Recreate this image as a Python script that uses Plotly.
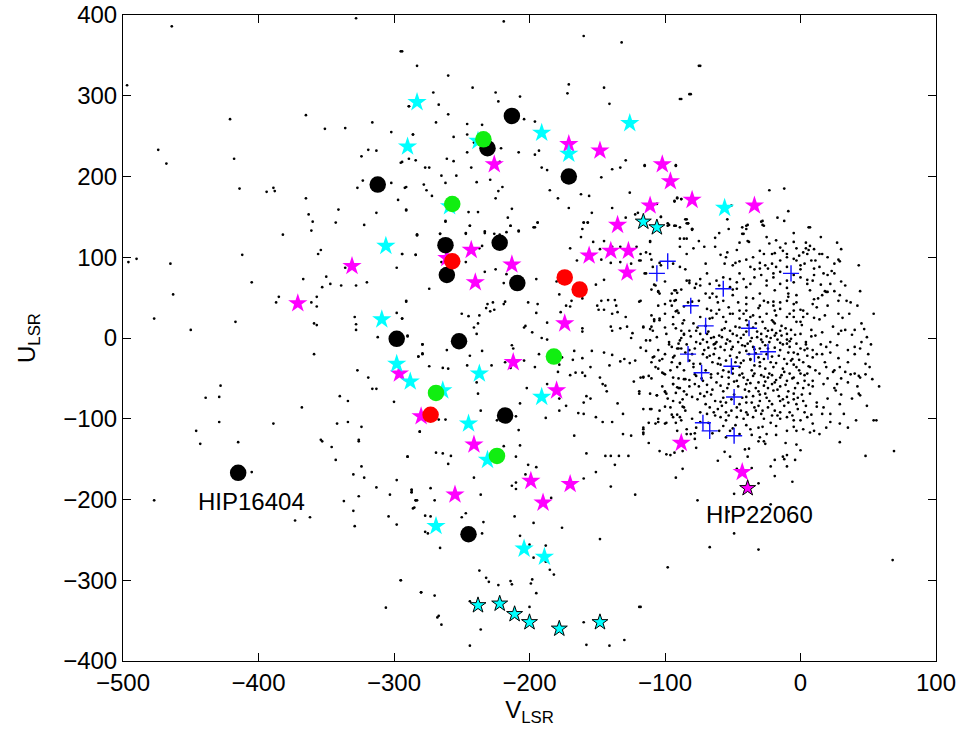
import plotly.graph_objects as go

# ---------------- data (V_LSR, U_LSR) ----------------
black_circ_v = [-415, -312, -213, -231, -171, -262, -222, -261, -209, -298, -252, -218, -245]
black_circ_u = [-167, 190, 275, 235, 200, 115, 118, 78, 68, -1, -4, -96, -243]

red_circ_v = [-257, -174, -163, -273]
red_circ_u = [95, 75, 60, -95]

green_circ_v = [-234, -257, -182, -269, -224]
green_circ_u = [246, 166, -23, -68, -146]

magenta_v = [-171, -226, -148, -102, -96, -80, -111, -135, -34, -243, -213, -240, -156, -140,
             -127, -128, -174, -212, -180, -296, -331, -371, -280, -261, -241, -255, -199, -170,
             -190, -88, -43]
magenta_u = [240, 215, 232, 215, 194, 171, 164, 140, 164, 109, 91, 69, 102, 108,
             108, 81, 18, -30, -65, -44, 89, 43, -97, 99, -132, -194, -177, -181,
             -204, -130, -166]

magenta_edge_v = [-39]
magenta_edge_u = [-186]

cyan_v = [-283, -290, -191, -126, -171, -56, -306, -309, -298, -288, -237, -245, -191, -264,
          -231, -269, -204, -189, -238, -259]
cyan_u = [292, 237, 254, 266, 228, 161, 114, 23, -32, -54, -44, -106, -73, -65,
          -151, -233, -261, -271, 244, 163]

cyan_edge_v = [-116, -106, -238, -222, -211, -200, -178, -148]
cyan_edge_u = [144, 137, -331, -329, -342, -352, -360, -352]

plus_v = [-98, -106, -7, -57, -81, -70, -38, -83, -34, -24, -51, -73, -49, -72, -67, -49]
plus_u = [95, 80, 80, 61, 40, 15, 12, -20, -20, -17, -35, -43, -73, -105, -115, -121]

# background field stars (V, U)
field_outer = [
    (-464, 386), (-328, 396), (-497, 313), (-295, 355), (-283, 337), (-289, 287), (-421, 271),
    (-365, 276), (-351, 259), (-336, 260), (-316, 267), (-302, 255), (-286, 252), (-474, 233),
    (-468, 216), (-418, 222), (-319, 233), (-313, 232), (-324, 225), (-295, 217), (-289, 222),
    (-284, 220), (-323, 195), (-302, 192), (-291, 187), (-327, 186), (-414, 185), (-394, 181),
    (-389, 186), (-388, 182), (-365, 173), (-297, 171), (-341, 159), (-313, 155), (-291, 158),
    (-363, 153), (-360, 144), (-343, 143), (-322, 140), (-361, 133), (-382, 128), (-283, 128),
    (-219, 392), (-160, 374), (-132, 366), (-294, 355), (-75, 337), (-260, 325), (-242, 310),
    (-271, 304), (-225, 304), (-171, 314), (-145, 310), (-172, 303), (-207, 299), (-289, 287),
    (-267, 289), (-223, 293), (-141, 290), (-88, 296), (-81, 302), (-260, 277), (-269, 267),
    (-246, 265), (-235, 264), (-204, 271), (-196, 268), (-286, 252), (-256, 249), (-246, 252),
    (-241, 242), (-221, 235), (-246, 230), (-208, 230), (-196, 227), (-193, 232), (-294, 218),
    (-261, 222), (-256, 219), (-222, 218), (-191, 211), (-187, 208), (-277, 211), (-274, 211),
    (-243, 211), (-129, 220), (-139, 209), (-133, 211), (-115, 213), (-92, 213), (-265, 201),
    (-254, 201), (-229, 196), (-262, 192), (-239, 193), (-147, 199), (-292, 186), (-278, 190),
    (-276, 183), (-220, 187), (-223, 182), (-185, 183), (-272, 176), (-225, 173), (-162, 178),
    (-156, 176), (-179, 173), (-126, 180), (-91, 174), (-88, 172), (-93, 169), (-291, 159),
    (-213, 160), (-171, 161), (-154, 155), (-139, 161), (-245, 156), (-238, 156), (-216, 149),
    (-262, 145), (-194, 143), (-160, 143), (-157, 143), (-129, 149), (-120, 155), (-122, 153),
    (-103, 150), (-98, 142), (-93, 139), (-84, 147), (-244, 139), (-214, 139), (-197, 137),
    (-161, 135), (-217, 131), (-208, 133), (-233, 132), (-226, 129), (-222, 128), (-266, 129),
    (-247, 130), (-80, 135), (-283, 128),
    (-74, 337), (-82, 302), (-89, 296), (-115, 214), (-92, 214), (-23, 183), (-12, 185),
    (-93, 170), (-91, 173), (-88, 172), (-106, 166), (-51, 164), (-9, 157), (-17, 149),
    (-12, 145), (-103, 150), (-85, 147), (-83, 142), (-54, 147), (-28, 145), (-27, 139),
    (-80, 135), (-97, 140), (-43, 137), (-40, 135), (-39, 140), (-43, 129), (6, 137),
    (-496, 94), (-490, 98), (-465, 92), (-412, 103), (-356, 104), (-354, 109), (-336, 87),
    (-294, 104), (-284, 103), (-298, 87), (-405, 69), (-463, 54), (-367, 73), (-350, 76),
    (-347, 67), (-353, 63), (-339, 65), (-328, 65), (-320, 69), (-385, 51), (-387, 44),
    (-361, 44), (-357, 51), (-357, 39), (-291, 45), (-477, 24), (-450, 10), (-417, 20),
    (-359, 18), (-357, 16), (-329, 26), (-328, 17), (-328, 10), (-298, 31), (-294, 24),
    (-312, 1), (-290, 3), (-359, -20), (-279, -8), (-282, -23), (-279, -20), (-327, -40),
    (-319, -49), (-316, -63), (-313, -63), (-428, -59), (-439, -74), (-429, -73), (-340, -72),
    (-334, -78), (-368, -86), (-300, -79), (-429, -104), (-389, -106), (-342, -106),
    (-334, -104), (-324, -110), (-446, -115), (-281, -116), (-354, -126), (-326, -126),
    (-443, -131), (-415, -129), (-353, -128), (-346, -135), (-326, -128), (-290, -147),
    (-343, -151), (-405, -166), (-324, -159), (-330, -169), (-322, -173), (-298, -176),
    (-313, -185), (-287, -188), (-287, -191), (-303, -194), (-326, -196), (-477, -201),
    (-337, -202), (-284, -201), (-285, -210), (-330, -214), (-373, -226), (-362, -222),
    (-304, -221), (-298, -231), (-329, -233), (-295, -300), (-280, -315), (-306, -334),
]

field_mid = [
    (-262, 144), (-244, 139), (-233, 130), (-214, 139), (-208, 132), (-194, 143), (-196, 137),
    (-283, 127), (-266, 129), (-247, 129), (-294, 104), (-284, 103), (-237, 111), (-235, 114),
    (-265, 94), (-247, 94), (-233, 82), (-225, 85), (-217, 79), (-219, 68), (-274, 61),
    (-291, 46), (-231, 42), (-232, 37), (-229, 33), (-226, 35), (-227, 44), (-219, 42),
    (-218, 45), (-201, 44), (-195, 31), (-194, 42), (-195, 73), (-250, 30), (-245, 27),
    (-237, 28), (-294, 24), (-241, 13), (-238, 18), (-239, 5), (-203, 15), (-204, 13),
    (-198, 7), (-187, 19), (-191, 0), (-187, -2), (-213, -9), (-212, -13), (-290, 2),
    (-279, -8), (-279, -19), (-282, -23), (-261, -15), (-244, -22), (-235, -16), (-228, -34),
    (-218, -30), (-204, -28), (-193, -20), (-196, -36), (-274, -35), (-264, -37), (-260, -38),
    (-246, -34), (-239, -55), (-161, 8), (-161, 12), (-170, 111), (-165, 96), (-180, 70),
    (-169, 46), (-170, 39), (-161, 49), (-178, 54), (-173, 40), (-177, 32), (-160, 143),
    (-157, 143), (-162, 125), (-153, 119), (-145, 120), (-139, 113), (-133, 113), (-121, 113),
    (-148, 110), (-147, 97), (-140, 93), (-133, 94), (-125, 92), (-119, 96), (-118, 104),
    (-111, 119), (-111, 104), (-110, 97), (-114, 80), (-103, 90), (-92, 139), (-98, 139),
    (-80, 135), (-89, 123), (-84, 123), (-83, 142), (-151, 66), (-145, 72), (-147, 46),
    (-142, 47), (-137, 47), (-136, 40), (-150, 40), (-145, 35), (-149, 35), (-139, 30),
    (-135, 32), (-119, 45), (-129, 26), (-140, 14), (-139, 9), (-133, 12), (-128, 14),
    (-124, 6), (-125, 0), (-116, 14), (-111, 11), (-110, 14), (-104, 24), (-108, 21),
    (-108, 66), (-105, 58), (-104, 55), (-100, 42), (-96, 46), (-92, 59), (-91, 56),
    (-92, 47), (-84, 71), (-82, 68), (-78, 62), (-92, 33), (-90, 31), (-94, 17), (-87, 18),
    (-88, 9), (-86, 4), (-81, 2), (-76, 13), (-111, -3), (-114, -16), (-118, -12),
    (-102, -26), (-97, -8), (-108, -23), (-93, -22), (-90, -13), (-88, -13), (-84, -8),
    (-89, -31), (-91, -36), (-107, -36), (-112, -47), (-102, -43), (-94, -49), (-79, -32),
    (-85, -51), (-77, -47), (-82, -60), (-86, -66), (-89, -62), (-94, -57), (-100, -66),
    (-106, -71), (-99, -69), (-118, -49), (-116, -48), (-119, -66), (-123, -54), (-119, -69),
    (-126, -31), (-122, -28), (-130, -26), (-133, -29), (-139, -21), (-141, -34), (-148, -49),
    (-146, -57), (-144, -59), (-143, -66), (-145, -18), (-154, -16), (-161, -25), (-161, -43),
    (-159, -47), (-166, -43), (-167, -16), (-155, -36), (-160, -80), (-158, -72), (-155, -75),
    (-164, -93), (-160, -94), (-151, -98), (-146, -104), (-135, -81), (-131, -94), (-139, -104),
    (-116, -88), (-110, -88), (-112, -105), (-105, -104), (-99, -105), (-94, -98), (-89, -80),
    (-87, -76), (-92, -68), (-91, -95), (-88, -102), (-116, -111), (-116, -117), (-125, -121),
    (-131, -119), (-84, -113), (-81, -119), (-78, -125), (-167, -121), (-188, -99), (-173, -84),
    (-178, -75), (-178, -90), (-187, -57), (-202, -62), (-238, -69), (-262, -64), (-267, -101),
    (-262, -101), (-281, -116), (-208, -114), (-210, -97), (-224, -102), (-236, -90),
    (-207, -81), (-214, -37), (-168, -27), (-176, -24), (-178, -33), (-170, -46), (-179, -42),
]

field_cluster = [
    (-93, 139), (-84, 142), (-80, 134), (-63, 124), (-53, 135), (-40, 139), (-42, 129),
    (-39, 120), (-38, 119), (-29, 144), (-28, 140), (-23, 117), (-18, 121), (-11, 117),
    (-5, 119), (-3, 111), (4, 118), (7, 114), (4, 111), (7, 137), (27, 118), (-13, 108),
    (-10, 104), (-21, 104), (-19, 105), (-27, 104), (-47, 109), (-54, 106), (-59, 103),
    (-63, 113), (-71, 113), (-79, 111), (-86, 123), (-89, 137), (-111, 120), (-114, 106),
    (-89, 113), (-84, 104), (16, 104), (14, 104), (-1, 102), (5, 104), (2, 106), (6, 109),
    (-104, 93), (-94, 92), (-89, 88), (-109, 88), (-118, 96), (-115, 80), (-107, 65),
    (-105, 57), (-93, 59), (-82, 71), (-74, 73), (-69, 80), (-67, 67), (-62, 71), (-56, 92),
    (-48, 93), (-45, 95), (-40, 97), (-37, 88), (-34, 85), (-30, 93), (-26, 90), (-24, 86),
    (-21, 92), (-18, 88), (-15, 96), (-10, 100), (-3, 96), (3, 92), (8, 96), (11, 96),
    (14, 88), (17, 80), (23, 83), (25, 80), (28, 97), (29, 95), (22, 67), (18, 58), (20, 57),
    (9, 71), (5, 67), (0, 75), (-5, 69), (-10, 71), (-15, 67), (-19, 59), (-25, 71),
    (-29, 78), (-34, 75), (-37, 67), (-42, 73), (-47, 69), (-52, 73), (-57, 75), (-40, 63),
    (-47, 61), (-52, 63), (-62, 51), (-65, 55), (-67, 50), (-74, 65), (-77, 67), (33, 65),
    (44, 58), (16, 53), (7, 59), (-3, 53), (-9, 55),
    (-118, 46), (-110, 28), (-108, 23), (-104, 22), (-93, 46), (-91, 34), (-86, 39),
    (-83, 44), (-75, 46), (-69, 36), (-66, 34), (-61, 44), (-57, 46), (-53, 38), (-50, 53),
    (-46, 44), (-45, 34), (-40, 42), (-35, 49), (-31, 37), (-27, 46), (-24, 44), (-20, 40),
    (-19, 34), (-15, 44), (-10, 46), (-9, 51), (-5, 42), (-3, 44), (2, 34), (2, 26), (9, 42),
    (13, 49), (19, 57), (28, 46), (29, 53), (34, 46), (37, 44), (31, 25), (14, 23), (-5, 26),
    (-18, 28), (-21, 22), (-30, 26), (-37, 26), (-42, 30), (-52, 30), (-57, 26), (-62, 30),
    (-67, 24), (-74, 26), (-79, 18), (-86, 22), (-94, 26), (-100, 13), (-109, 9), (-116, 13),
    (54, 30),
    (-114, -3), (-106, 1), (-99, 5), (-90, -7), (-86, 5), (-82, 9), (-77, 9), (-69, 5),
    (-64, 1), (-58, 1), (-52, 9), (-47, 3), (-45, 13), (-40, 22), (-35, 13), (-32, 1),
    (-29, 5), (-24, 9), (-19, 18), (-15, 9), (-10, 5), (-7, -1), (-3, -7), (0, -13),
    (-5, -18), (-10, -7), (-14, 3), (-19, 3), (-23, -5), (-26, -9), (-30, -13), (-35, -11),
    (-39, -7), (-43, -9), (-50, -11), (-55, -7), (-59, -11), (-63, -7), (-69, -5), (-74, -7),
    (-78, -13), (-82, -15), (-85, -18), (-91, -13), (-95, -11), (-89, -3), (11, 3), (16, 7),
    (19, -11), (27, -9), (30, 9), (38, 4), (40, -11), (49, 1), (47, 11), (44, -13), (5, -13),
    (9, -15),
    (-116, -49), (-109, -24), (-104, -28), (-101, -44), (-96, -40), (-94, -24), (-89, -32),
    (-82, -28), (-79, -36), (-74, -32), (-69, -24), (-64, -20), (-61, -32), (-57, -40),
    (-53, -49), (-50, -44), (-45, -36), (-42, -28), (-37, -26), (-34, -34), (-30, -30),
    (-26, -38), (-24, -49), (-21, -57), (-19, -55), (-15, -49), (-13, -38), (-10, -32),
    (-7, -28), (-3, -36), (0, -44), (3, -53), (7, -36), (11, -40), (14, -44), (19, -36),
    (24, -42), (29, -36), (33, -42), (37, -45), (40, -44), (43, -47), (44, -49), (53, -51),
    (58, -60), (51, -36), (48, -32), (-94, -57), (-86, -51), (-78, -57), (-72, -53),
    (-66, -49), (-59, -59), (-53, -57), (-47, -53), (-42, -49), (-40, -57), (-35, -47),
    (-31, -55), (-27, -59), (-10, -53), (-5, -49), (9, -53), (17, -57), (27, -57),
    (-111, -69), (-106, -71), (-100, -67), (-94, -78), (-89, -98), (-86, -86), (-80, -73),
    (-74, -69), (-69, -67), (-63, -78), (-58, -84), (-55, -80), (-51, -90), (-45, -82),
    (-40, -73), (-36, -80), (-34, -86), (-30, -78), (-26, -69), (-24, -86), (-20, -65),
    (-15, -78), (-10, -73), (-5, -69), (-3, -82), (2, -78), (7, -69), (12, -80), (17, -86),
    (22, -94), (29, -82), (32, -94), (44, -71), (49, -84), (43, -69), (-111, -88), (-104, -90),
    (-96, -86), (-91, -61), (-69, -94), (-64, -92), (-59, -98), (-55, -102), (-47, -98),
    (-40, -92), (-35, -98), (-29, -94), (-21, -96), (-15, -92), (-10, -98), (-5, -102),
    (5, -98), (9, -106), (16, -94), (56, -102),
    (-116, -113), (-116, -119), (-107, -106), (-100, -106), (-91, -115), (-84, -119),
    (-77, -111), (-74, -104), (-57, -109), (-52, -115), (-45, -119), (-37, -113), (-31, -111),
    (-25, -119), (-18, -109), (-10, -115), (-3, -115), (2, -113), (7, -117), (14, -119),
    (19, -111), (29, -106), (35, -111), (41, -102), (54, -102), (-30, -123), (-55, -123),
    (43, 90),
]

field_core = [
    (-72, -20), (-68, -12), (-65, -30), (-60, -25), (-56, -15), (-52, -22), (-48, -30),
    (-45, -18), (-41, -10), (-38, -20), (-34, -14), (-31, -24), (-28, -5), (-25, -20),
    (-22, -30), (-19, -12), (-16, -22), (-13, -8), (-9, -18), (-6, -26), (-2, -20), (2, -30),
    (5, -22), (-70, -40), (-66, -45), (-62, -55), (-58, -48), (-54, -62), (-50, -38),
    (-46, -60), (-43, -44), (-39, -52), (-36, -40), (-33, -62), (-29, -46), (-26, -54),
    (-23, -44), (-20, -36), (-17, -64), (-14, -46), (-11, -58), (-8, -44), (-4, -62),
    (-1, -40), (3, -46), (6, -58), (-75, -60), (-78, -45), (-82, -52), (-86, -40), (-90, -62),
    (-84, -70), (-76, -76), (-70, -82), (-66, -70), (-61, -88), (-57, -74), (-53, -96),
    (-49, -70), (-44, -90), (-40, -80), (-38, -66), (-33, -90), (-30, -70), (-27, -100),
    (-23, -78), (-19, -90), (-16, -72), (-12, -84), (-8, -92), (-5, -76), (-2, -88), (1, -70),
    (4, -84), (-80, -20), (-77, -5), (-74, 5), (-70, 15), (-66, 0), (-62, -5), (-58, 10),
    (-54, -2), (-50, 5), (-46, -5), (-42, 4), (-39, 16), (-36, 0), (-32, 8), (-28, 20),
    (-25, 2), (-21, 10), (-17, -2), (-14, 15), (-10, -2), (-7, 10), (-3, 20), (0, 5), (4, -5),
    (8, 10), (12, -20), (15, -8), (18, -30), (22, -18), (25, -40), (28, -25), (-88, 0),
    (-92, 12), (-97, -5), (-100, -20), (-105, -38), (-110, -50), (-102, -60), (-98, -75),
    (-95, -95), (-87, -85), (-80, -100), (-74, -92), (-68, -105), (-60, -115), (-48, -108),
    (-42, -100), (-36, -120), (-22, -105), (-15, -100), (-5, -110), (8, -95), (12, -85),
    (20, -75), (26, -65), (30, -50), (35, -30), (40, -20), (45, -5), (33, 10), (28, 30),
    (20, 40), (10, 25), (0, 35), (-8, 30), (-20, 45), (-30, 55), (-40, 50), (-50, 60),
    (-60, 65), (-70, 55), (-80, 45), (-88, 60), (-95, 40), (-100, 70), (-85, 85), (-70, 92),
    (-55, 100), (-45, 80), (-30, 108), (-20, 80), (-10, 88), (0, 85), (10, 78), (20, 100),
    (30, 110), (15, 125), (-5, 130), (-25, 125), (-60, 130), (-75, 120),
]

field_core2 = [
    (-71, -15), (-67, -22), (-63, -13), (-59, -33), (-55, -28), (-51, -14), (-47, -24),
    (-44, -31), (-40, -16), (-37, -27), (-33, -19), (-30, -35), (-27, -26), (-24, -13),
    (-21, -23), (-18, -31), (-15, -15), (-12, -26), (-8, -11), (-5, -33), (-1, -27), (3, -15),
    (6, -35), (9, -24), (-73, -50), (-69, -58), (-65, -64), (-61, -44), (-57, -66), (-53, -42),
    (-49, -54), (-45, -46), (-41, -64), (-37, -56), (-34, -44), (-31, -66), (-27, -48),
    (-24, -62), (-21, -46), (-18, -52), (-15, -60), (-12, -42), (-9, -66), (-6, -50), (-2, -56),
    (2, -62), (5, -44), (9, -60), (-71, -72), (-67, -86), (-63, -96), (-59, -79), (-55, -92),
    (-51, -76), (-47, -86), (-43, -74), (-39, -95), (-35, -72), (-31, -84), (-28, -90),
    (-25, -74), (-21, -82), (-17, -96), (-13, -76), (-9, -80), (-6, -96), (-2, -74), (3, -92),
    (-72, -2), (-68, 8), (-64, -8), (-60, 3), (-56, 12), (-52, -4), (-48, 14), (-44, 0),
    (-40, 8), (-37, -4), (-33, 18), (-29, -2), (-26, 12), (-22, 0), (-18, 6), (-15, -6),
    (-11, 12), (-8, -4), (-4, 4), (1, 16), (4, -8), (8, 2), (-65, 25), (-60, 35), (-55, 20),
    (-50, 30), (-45, 24), (-40, 34), (-35, 28), (-30, 40), (-25, 30), (-20, 20), (-15, 36),
    (-10, 26), (-5, 34), (0, 20), (5, 30), (12, 38), (18, 28), (24, 14), (-25, 65), (-20, 75),
    (-15, 82), (-10, 62), (-5, 78), (0, 90), (5, 72), (10, 86), (15, 66), (20, 78), (-30, 86),
    (-35, 100), (-15, 112), (-5, 98), (10, 110), (25, 92), (-45, 118), (-50, 90), (-90, -50),
    (-95, -30), (-100, -45), (-105, -15), (-110, -30), (-85, -90), (-92, -105), (-100, -85),
    (-105, -100), (-78, -118), (-65, -118), (-50, -112), (-40, -108), (-28, -110), (-18, -120),
    (0, -102), (10, -115), (22, -104), (20, -50), (25, -62), (30, -70), (35, -55), (38, -75),
    (42, -60), (48, -45), (16, -20), (22, -5), (28, 5), (35, -15), (40, 10), (45, 18),
    (50, -20), (52, -8), (36, 30), (42, 40), (25, 58), (30, 70), (10, 48), (-100, 30),
    (-95, 55), (-110, 60), (-105, 40),
]

field_south = [
    (-112, -130), (-104, -140), (-99, -144), (-96, -145), (-93, -142), (-87, -140),
    (-77, -136), (-87, -162), (-92, -173), (-76, -201), (-61, -152), (-56, -141), (-52, -147),
    (-41, -138), (-38, -137), (-39, -147), (-31, -128), (-27, -128), (-26, -131), (-11, -130),
    (-3, -132), (0, -139), (-13, -147), (-10, -145), (-12, -150), (-19, -151), (-4, -151),
    (-22, -159), (-10, -159), (-19, -171), (-6, -178), (-36, -161), (-47, -162), (-31, -180),
    (-49, -193), (-22, -206), (-53, -215), (-49, -242), (-67, -259), (-31, -262), (-98, -284),
    (-118, -333), (29, -129), (48, -146), (69, -140), (68, -275),
    (-290, -147), (-269, -142), (-264, -143), (-258, -146), (-260, -156), (-219, -134),
    (-207, -133), (-210, -147), (-201, -157), (-195, -160), (-203, -169), (-241, -173),
    (-287, -188), (-287, -191), (-273, -186), (-284, -201), (-283, -201), (-270, -201),
    (-286, -211), (-236, -194), (-213, -183), (-210, -179), (-210, -187), (-184, -198),
    (-160, -174), (-151, -166), (-158, -143), (-144, -146), (-140, -146), (-134, -146),
    (-127, -146), (-137, -157), (-140, -184), (-122, -194), (-277, -220), (-273, -221),
    (-250, -222), (-247, -217), (-234, -228), (-235, -242), (-277, -240), (-275, -242),
    (-266, -260), (-211, -221), (-197, -229), (-176, -235), (-148, -249), (-207, -245),
    (-200, -256), (-197, -272), (-188, -257), (-188, -277), (-185, -287), (-182, -293),
    (-237, -288), (-232, -297), (-230, -302), (-223, -306), (-214, -301), (-213, -305),
    (-198, -299), (-199, -304), (-195, -316), (-295, -300), (-280, -315), (-270, -319),
    (-244, -326), (-200, -333), (-267, -344), (-268, -346), (-265, -355), (-236, -361),
    (-244, -381), (-160, -352), (-158, -380), (-141, -381), (-130, -374), (-119, -333),
]

x_ticks = [-500, -400, -300, -200, -100, 0, 100]
y_ticks = [-400, -300, -200, -100, 0, 100, 200, 300, 400]

labels = ["HIP16404", "HIP22060"]
label_v = [-405, -30]
label_u = [-202, -219]

# ---------------- figure ----------------
FONT = "Liberation Sans, Arial, Helvetica, sans-serif"
field = field_outer + field_mid + field_cluster + field_core + field_core2 + field_south
fv = [p[0] for p in field]
fu = [p[1] for p in field]

fig = go.Figure()
fig.add_trace(go.Scatter(x=fv, y=fu, mode="markers",
                         marker=dict(size=2.7, color="black", line=dict(width=0))))
fig.add_trace(go.Scatter(x=plus_v, y=plus_u, mode="markers",
                         marker=dict(symbol="cross-thin", size=11.5,
                                     line=dict(color="#1010FF", width=1.4))))
fig.add_trace(go.Scatter(x=magenta_v, y=magenta_u, mode="markers",
                         marker=dict(symbol="star", size=14.5, color="#FF00FF", line=dict(width=0))))
fig.add_trace(go.Scatter(x=cyan_v, y=cyan_u, mode="markers",
                         marker=dict(symbol="star", size=14.5, color="#00FFFF", line=dict(width=0))))
fig.add_trace(go.Scatter(x=black_circ_v, y=black_circ_u, mode="markers",
                         marker=dict(symbol="circle", size=16.5, color="black", line=dict(width=0))))
fig.add_trace(go.Scatter(x=red_circ_v, y=red_circ_u, mode="markers",
                         marker=dict(symbol="circle", size=16.5, color="#FF0000", line=dict(width=0))))
fig.add_trace(go.Scatter(x=green_circ_v, y=green_circ_u, mode="markers",
                         marker=dict(symbol="circle", size=16.5, color="#11EE11", line=dict(width=0))))
fig.add_trace(go.Scatter(x=cyan_edge_v, y=cyan_edge_u, mode="markers",
                         marker=dict(symbol="star", size=12, color="#00FFFF",
                                     line=dict(color="black", width=1))))
fig.add_trace(go.Scatter(x=magenta_edge_v, y=magenta_edge_u, mode="markers",
                         marker=dict(symbol="star", size=12, color="#FF00FF",
                                     line=dict(color="black", width=1))))

for t, v, u in zip(labels, label_v, label_u):
    fig.add_annotation(x=v, y=u, text=t, showarrow=False, xanchor="center", yanchor="middle",
                       font=dict(family=FONT, size=24, color="black"))

axis_common = dict(showgrid=False, zeroline=False, showline=True, linecolor="black",
                   linewidth=1, mirror="ticks", ticks="inside", ticklen=8, tickwidth=1,
                   tickcolor="black", tickfont=dict(family=FONT, size=24, color="black"))

fig.update_xaxes(range=[-500, 100], tickvals=x_ticks, **axis_common,
                 title=dict(text="V<sub>LSR</sub>", font=dict(family=FONT, size=24), standoff=4))
fig.update_yaxes(range=[-400, 400], tickvals=y_ticks, **axis_common,
                 title=dict(text="U<sub>LSR</sub>", font=dict(family=FONT, size=24), standoff=20))

fig.update_layout(width=968, height=742, showlegend=False,
                  margin=dict(l=123, r=32, t=15, b=81, autoexpand=False),
                  paper_bgcolor="white", plot_bgcolor="white",
                  font=dict(family=FONT, color="black"))

fig.write_html("out.html")
